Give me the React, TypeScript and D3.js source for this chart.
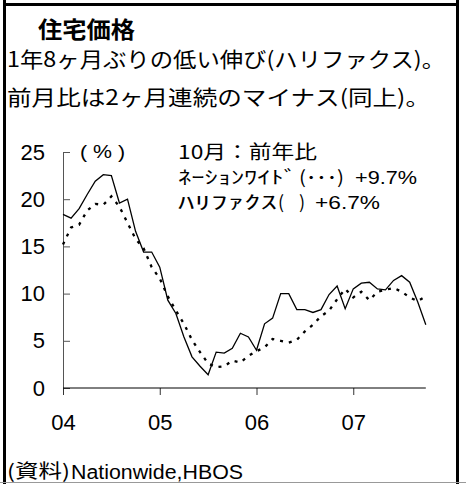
import React, { useEffect, useRef } from 'react';
import * as d3 from 'd3';

// 前年比(%)、2004年1月〜2007年10月
const halifax = [
  18.4, 18.0, 19.0, 20.5, 21.9, 22.6, 22.5, 19.6, 20.0, 16.6, 14.4, 14.4,
  12.8, 9.3, 7.9, 5.4, 3.3, 2.3, 1.4, 3.8, 3.7, 4.2, 5.8, 5.4,
  4.0, 6.8, 7.4, 10.0, 10.0, 8.3, 8.3, 8.0, 8.3, 9.9, 10.8, 8.4,
  10.5, 11.1, 11.2, 10.5, 10.4, 11.4, 11.9, 11.2, 9.1, 6.7,
];
const nationwide = [
  15.2, 17.0, 17.3, 18.8, 19.5, 19.4, 20.3, 19.2, 17.5, 15.8, 14.8, 12.8,
  11.6, 9.7, 8.2, 6.8, 5.1, 3.8, 2.6, 2.2, 2.3, 2.9, 2.7, 3.4,
  3.9, 4.3, 5.2, 5.0, 4.8, 5.1, 6.0, 6.7, 7.6, 8.2, 9.4, 10.5,
  9.6, 10.2, 9.3, 10.2, 10.4, 10.6, 10.2, 9.6, 9.2, 9.7,
];
const yearLabels = ['04', '05', '06', '07'];
const yearTicks = [0, 12, 24, 36];
const yTicks = [0, 5, 10, 15, 20, 25];

const JP = '"Noto Sans CJK JP", sans-serif';
const EN = '"Liberation Sans", Arial, sans-serif';

export default function App() {
  const gRef = useRef<SVGGElement>(null);

  useEffect(() => {
    const g = d3.select(gRef.current);
    g.selectAll('*').remove();

    const x = d3.scaleLinear().domain([0, 48]).range([63, 450]);
    const y = d3.scaleLinear().domain([0, 25]).range([388, 152]);

    // 縦軸 (目盛りは内向き)
    const gy = g.append('g')
      .attr('transform', `translate(${x(0)},0)`)
      .call(d3.axisLeft(y).tickValues(yTicks).tickSize(-7).tickSizeOuter(0).tickPadding(18));
    gy.select('.domain').attr('stroke', '#555');
    gy.selectAll('.tick line').attr('stroke', '#555');
    gy.selectAll('text')
      .attr('font-family', EN)
      .attr('font-size', 22)
      .attr('fill', '#000');

    // 横軸
    const gx = g.append('g')
      .attr('transform', `translate(0,${y(0)})`)
      .call(d3.axisBottom(x)
        .tickValues(yearTicks)
        .tickFormat((_d, i) => yearLabels[i])
        .tickSize(7)
        .tickPadding(19));
    gx.select('.domain').remove();
    gx.selectAll('.tick line').attr('stroke', '#333');
    gx.selectAll('text')
      .attr('font-family', EN)
      .attr('font-size', 22)
      .attr('fill', '#000');

    g.append('line')
      .attr('x1', x(0))
      .attr('x2', x(halifax.length - 1))
      .attr('y1', y(0))
      .attr('y2', y(0))
      .attr('stroke', '#000');

    const line = d3.line<number>()
      .x((_d, i) => x(i))
      .y(d => y(d));

    // ネーションワイド (点線)
    g.append('path')
      .datum(nationwide)
      .attr('d', line)
      .attr('fill', 'none')
      .attr('stroke', '#000')
      .attr('stroke-width', 2.3)
      .attr('stroke-dasharray', '3 6');

    // ハリファクス (実線)
    g.append('path')
      .datum(halifax)
      .attr('d', line)
      .attr('fill', 'none')
      .attr('stroke', '#000')
      .attr('stroke-width', 1.3);
  }, []);

  const fit = { lengthAdjust: 'spacingAndGlyphs' as const };

  return (
    <svg width={466} height={484} style={{ position: 'absolute', left: 0, top: 0, background: '#fff' }}>
      {/* 枠 */}
      <rect x={3} y={0} width={3} height={484} fill="#000" />
      <rect x={456} y={0} width={3} height={484} fill="#000" />
      <rect x={3} y={3} width={456} height={3} fill="#000" />
      <line x1={0} x2={466} y1={482.5} y2={482.5} stroke="#999" />

      {/* 見出し */}
      <text x={38} y={38} fontFamily={JP} fontWeight="bold" fontSize={23} textLength={97} {...fit}>住宅価格</text>
      <text x={7} y={67} fontFamily={JP} fontSize={21} textLength={438} {...fit}>1年8ヶ月ぶりの低い伸び(ハリファクス)。</text>
      <text x={7} y={105} fontFamily={JP} fontSize={21} textLength={423} {...fit}>前月比は2ヶ月連続のマイナス(同上)。</text>

      {/* 単位 */}
      <text x={80} y={158} fontFamily={EN} fontSize={19} textLength={45} {...fit}>( % )</text>

      {/* 凡例 */}
      <text x={178} y={159} fontFamily={JP} fontSize={19} textLength={139} {...fit}>10月：前年比</text>
      <text x={178} y={184} fontFamily={JP} fontSize={18} textLength={119} {...fit}>ﾈｰｼｮﾝﾜｲﾄﾞ</text>
      <text x={299} y={184} fontFamily={JP} fontSize={18} textLength={45} {...fit}>(･･･)</text>
      <text x={355} y={184} fontFamily={EN} fontSize={19} textLength={62} {...fit}>+9.7%</text>
      <text x={178} y={209} fontFamily={JP} fontSize={18} textLength={99} {...fit}>ﾊﾘﾌｧｸｽ</text>
      <text x={278} y={209} fontFamily={JP} fontSize={18}>(</text>
      <text x={299} y={209} fontFamily={JP} fontSize={18}>)</text>
      <text x={315} y={209} fontFamily={EN} fontSize={19} textLength={65} {...fit}>+6.7%</text>

      <g ref={gRef} />

      {/* 出所 */}
      <text x={7} y={478} fontFamily={JP} fontSize={19} textLength={63} {...fit}>(資料)</text>
      <text x={71} y={479} fontFamily={EN} fontSize={20} textLength={172} {...fit}>Nationwide,HBOS</text>
    </svg>
  );
}
